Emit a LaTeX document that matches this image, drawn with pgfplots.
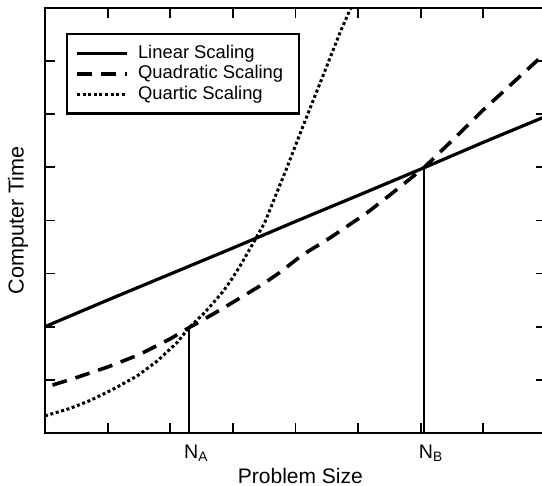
\documentclass[border=0pt]{standalone}
\usepackage{fontspec}
\setmainfont{Liberation Sans}
\usepackage{pgfplots}
\pgfplotsset{compat=1.18}

\begin{document}
\begin{tikzpicture}
\begin{axis}[
  scale only axis,
  width=250.5pt, height=212.5pt,
  xmin=0, xmax=8, ymin=0, ymax=8,
  axis line style={line width=0.9pt},
  tick align=inside,
  major tick length=5pt,
  every tick/.style={line width=0.9pt, black},
  xtick={1,...,7}, ytick={1,...,7},
  xticklabels={}, yticklabels={},
  extra x ticks={2.30,6.05},
  extra x tick labels={N\textsubscript{A},N\textsubscript{B}},
  extra x tick style={major tick length=0pt,
    tick label style={anchor=base, yshift=-13pt, xshift=3.7pt, font=\fontsize{9.8}{12}\selectfont}},
  xlabel={Problem Size},
  xlabel style={at={(axis description cs:0.51,-0.12)}, anchor=base, font=\fontsize{10.5}{12}\selectfont},
  ylabel={Computer Time},
  ylabel style={at={(axis description cs:-0.054,0.5)}, anchor=center, font=\fontsize{10.8}{12}\selectfont},
  legend style={at={(axis description cs:0.042,0.941)}, anchor=north west,
    draw=black, line width=1.2pt, font=\fontsize{9.2}{11}\selectfont,
    inner xsep=4pt, inner ysep=4.5pt, row sep=0.5pt, column sep=4pt,
    nodes={inner sep=0.6pt, text height=6.8pt, text depth=1.9pt}},
  legend cell align=left,
  legend image code/.code={\draw[#1] (0pt,0pt) -- (25pt,0pt);},
  clip=true,
]
\addplot[black, line width=1.6pt] coordinates {
(0,2.00) (1,2.50) (2,2.99) (3,3.48) (4,3.98) (5,4.47) (6.05,4.99) (7,5.47) (8,5.96)
};
\addlegendentry{Linear Scaling}
\addplot[black, line width=1.8pt, dash pattern=on 7.5pt off 4.5pt] coordinates {
(0.12,0.90) (0.5,1.04) (1.0,1.24) (1.5,1.47) (2.0,1.77) (2.3,1.98) (2.69,2.24) (3.06,2.50)
(3.48,2.80) (3.75,3.02) (4.1,3.34) (4.55,3.67) (5.14,4.14) (5.5,4.47) (6.05,4.99)
(6.63,5.65) (7.0,6.08) (7.38,6.49) (7.75,6.89) (8.0,7.16)
};
\addlegendentry{Quadratic Scaling\hspace*{3.4pt}}
\addplot[black, line width=1.5pt, dash pattern=on 1.5pt off 1.3pt] coordinates {
(0.00,0.32) (0.40,0.46) (0.72,0.61) (1.07,0.81) (1.47,1.07) (1.79,1.35) (2.11,1.70)
(2.30,1.98) (2.53,2.24) (2.69,2.45) (2.85,2.67) (2.98,2.89) (3.12,3.15) (3.30,3.52)
(3.51,3.96) (3.64,4.34) (3.86,4.98) (4.07,5.62) (4.28,6.25) (4.50,6.90) (4.71,7.53) (4.92,8.10)
};
\addlegendentry{Quartic Scaling}
\addplot[black, line width=0.9pt, forget plot] coordinates {(2.30,0) (2.30,2.0)};
\addplot[black, line width=0.9pt, forget plot] coordinates {(6.05,0) (6.05,4.99)};
\coordinate (bbBL) at (axis cs:-0.7188,-0.9976);
\coordinate (bbTR) at (axis cs:7.939,8.1506);
\end{axis}
\pgfresetboundingbox
\useasboundingbox (bbBL) rectangle (bbTR);
\end{tikzpicture}
\end{document}
